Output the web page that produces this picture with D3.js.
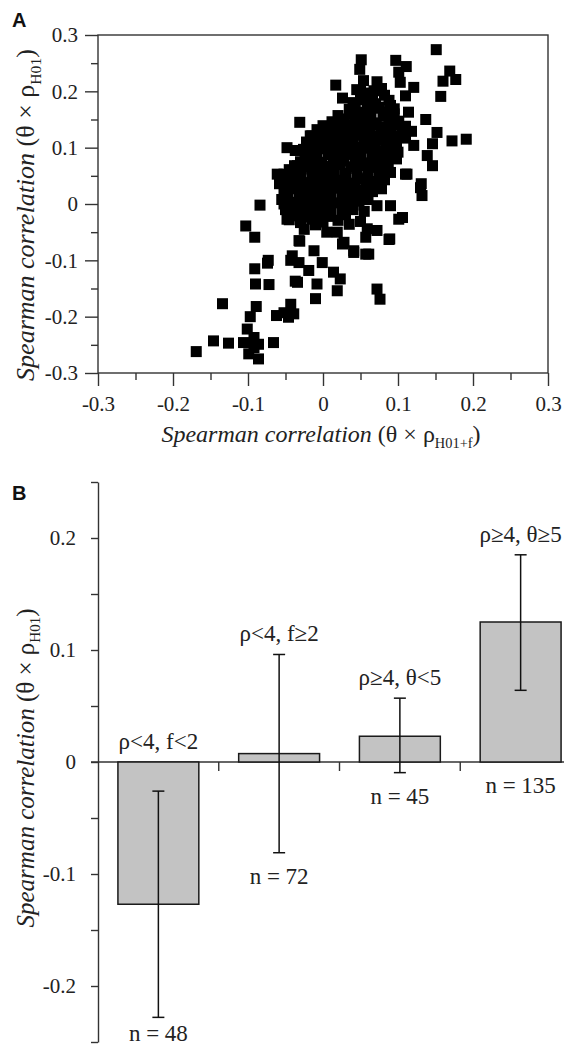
<!DOCTYPE html>
<html>
<head>
<meta charset="utf-8">
<script src="https://cdn.jsdelivr.net/npm/d3@7"></script>
<style>
  body { margin: 0; background: #fff; }
  svg { display: block; }
  .axis path, .axis line { stroke: #333; stroke-width: 1.4; }
  .axis text { font-family: "Liberation Serif", "Times New Roman", serif; font-size: 21px; fill: #222; }
  .serif { font-family: "Liberation Serif", "Times New Roman", serif; fill: #222; }
  .panel { font-family: "Liberation Sans", Arial, sans-serif; font-weight: bold; font-size: 20px; fill: #111; }
</style>
</head>
<body>
<svg id="chart" width="564" height="1049"></svg>
<script>
// ---- panel A: scatter (x = rho H01+f, y = rho H01) ----
const pointsA = [
  // dense core
  [0.045,0.203],[0.062,0.197],[0.078,0.205],
  [0.050,0.191],[0.066,0.189],[0.082,0.193],
  [0.040,0.180],[0.055,0.185],[0.070,0.178],[0.088,0.184],
  [0.043,0.174],[0.059,0.176],[0.075,0.172],[0.090,0.175],
  [0.035,0.168],[0.050,0.163],[0.066,0.170],[0.082,0.164],[0.095,0.169],
  [0.020,0.157],[0.036,0.159],[0.050,0.155],[0.064,0.158],[0.080,0.156],[0.095,0.160],
  [0.012,0.146],[0.028,0.151],[0.043,0.145],[0.057,0.150],[0.071,0.144],[0.088,0.152],[0.101,0.147],
  [0.000,0.139],[0.015,0.141],[0.030,0.137],[0.042,0.140],[0.056,0.138],[0.070,0.141],[0.084,0.137],[0.097,0.140],[0.110,0.138],
  [-0.008,0.132],[0.006,0.127],[0.020,0.134],[0.034,0.129],[0.049,0.133],[0.062,0.126],[0.077,0.131],[0.090,0.128],[0.105,0.133],[0.118,0.129],
  [-0.015,0.121],[0.000,0.119],[0.016,0.123],[0.030,0.120],[0.046,0.122],[0.060,0.118],[0.075,0.121],[0.090,0.123],[0.104,0.120],
  [-0.022,0.110],[-0.005,0.115],[0.010,0.109],[0.025,0.114],[0.040,0.111],[0.055,0.116],[0.068,0.108],[0.083,0.113],[0.098,0.110],[0.110,0.117],
  [-0.018,0.103],[-0.004,0.101],[0.012,0.104],[0.026,0.102],[0.040,0.105],[0.054,0.101],[0.069,0.103],[0.084,0.100],[0.096,0.104],
  [-0.026,0.097],[-0.012,0.092],[0.003,0.098],[0.018,0.093],[0.032,0.096],[0.047,0.091],[0.061,0.099],[0.075,0.094],[0.090,0.097],[0.100,0.092],
  [-0.024,0.086],[-0.008,0.084],[0.007,0.087],[0.022,0.085],[0.036,0.088],[0.051,0.084],[0.066,0.086],[0.080,0.083],[0.094,0.087],
  [-0.030,0.075],[-0.016,0.080],[-0.002,0.074],[0.014,0.079],[0.028,0.076],[0.043,0.081],[0.058,0.073],[0.072,0.078],[0.087,0.075],[0.098,0.080],
  [-0.038,0.068],[-0.022,0.066],[-0.008,0.069],[0.007,0.067],[0.022,0.070],[0.037,0.066],[0.052,0.068],[0.068,0.065],[0.083,0.069],
  [-0.045,0.061],[-0.030,0.056],[-0.015,0.062],[0.000,0.057],[0.015,0.060],[0.030,0.055],[0.045,0.063],[0.060,0.058],[0.076,0.061],[0.090,0.056],
  [-0.044,0.050],[-0.029,0.048],[-0.014,0.051],[0.001,0.049],[0.015,0.052],[0.030,0.048],[0.045,0.050],[0.060,0.047],[0.075,0.051],
  [-0.036,0.043],[-0.022,0.038],[-0.007,0.044],[0.008,0.039],[0.022,0.042],[0.037,0.037],[0.052,0.045],[0.067,0.040],[0.082,0.043],
  [-0.045,0.032],[-0.030,0.030],[-0.016,0.033],[-0.001,0.031],[0.013,0.034],[0.028,0.030],[0.043,0.032],[0.058,0.029],[0.072,0.033],
  [-0.052,0.022],[-0.038,0.027],[-0.024,0.021],[-0.010,0.026],[0.005,0.023],[0.020,0.028],[0.035,0.020],[0.050,0.025],[0.066,0.022],[0.078,0.027],
  [-0.047,0.015],[-0.032,0.013],[-0.018,0.016],[-0.004,0.014],[0.011,0.017],[0.026,0.013],[0.041,0.015],[0.055,0.012],
  [-0.055,0.008],[-0.040,0.003],[-0.026,0.009],[-0.012,0.004],[0.003,0.007],[0.018,0.002],[0.033,0.010],[0.048,0.005],[0.060,0.008],
  [-0.048,-0.003],[-0.033,-0.005],[-0.019,-0.002],[-0.004,-0.004],[0.010,-0.001],[0.026,-0.005],[0.040,-0.002],
  [-0.050,-0.010],[-0.035,-0.015],[-0.020,-0.009],[-0.005,-0.014],[0.010,-0.011],[0.025,-0.016],[0.040,-0.010],[0.055,-0.013],
  [-0.040,-0.021],[-0.025,-0.023],[-0.008,-0.020],[0.008,-0.022],[0.030,-0.019],
  [-0.045,-0.028],[-0.030,-0.033],[-0.015,-0.027],[0.000,-0.032],[0.020,-0.029],[0.050,-0.031],
  // upper spread
  [0.151,0.274],[0.051,0.256],[0.097,0.255],[0.111,0.244],[0.049,0.239],[0.169,0.236],[0.177,0.221],
  [0.160,0.218],[0.017,0.211],[0.054,0.219],[0.072,0.217],[0.101,0.234],[0.103,0.216],[0.121,0.207],
  [0.050,0.201],[0.068,0.201],[0.026,0.188],[0.157,0.191],[0.110,0.192],[-0.031,0.145],[0.137,0.150],
  [0.114,0.163],[0.152,0.127],[0.146,0.107],[0.172,0.112],[0.191,0.115],[0.139,0.086],[0.146,0.068],
  [0.131,0.036],[0.110,0.053],[0.121,0.104],[-0.017,0.121],[-0.048,0.100],[-0.037,0.095],[-0.034,0.068],
  [-0.052,0.053],[-0.061,0.053],[-0.058,0.036],[0.130,0.029],[0.132,0.015],[0.112,0.053],
  // lower spread
  [-0.084,-0.002],[-0.103,-0.039],[-0.091,-0.059],[-0.032,-0.065],[-0.012,-0.083],[0.019,-0.050],
  [0.028,-0.068],[0.041,-0.083],[0.057,-0.089],[0.059,-0.044],[0.072,-0.047],[0.089,-0.062],[0.106,-0.024],
  [0.072,-0.003],[0.090,-0.003],[-0.043,-0.100],[-0.073,-0.100],[-0.052,0.000],[-0.048,-0.027],
  [-0.041,-0.092],[-0.032,-0.104],[-0.074,-0.105],[-0.091,-0.115],[-0.090,-0.142],[-0.072,-0.143],
  [-0.037,-0.137],[-0.134,-0.177],[-0.089,-0.182],[-0.097,-0.200],[-0.062,-0.198],[-0.052,-0.193],
  [-0.043,-0.178],[-0.046,-0.201],[-0.039,-0.195],[-0.101,-0.222],[-0.092,-0.237],[-0.146,-0.243],
  [-0.126,-0.247],[-0.106,-0.246],[-0.086,-0.249],[-0.066,-0.246],[-0.169,-0.262],[-0.099,-0.266],
  [-0.086,-0.275],[-0.092,-0.255],[0.057,-0.059],[0.088,-0.063],[0.026,-0.071],[0.041,-0.086],
  [0.061,-0.089],[-0.031,-0.066],[-0.001,-0.104],[-0.019,-0.118],[0.014,-0.121],[0.023,-0.133],
  [-0.034,-0.139],[-0.008,-0.142],[0.019,-0.154],[-0.010,-0.168],[0.072,-0.151],[0.076,-0.169],
  [0.101,-0.027],[-0.025,-0.045],[-0.010,-0.037],[0.035,-0.036],[0.005,-0.050]
];
const ticksA = [-0.3, -0.2, -0.1, 0, 0.1, 0.2, 0.3];
const tickLabelsA = ["-0.3", "-0.2", "-0.1", "0", "0.1", "0.2", "0.3"];
const minorTicksA = [-0.25, -0.15, -0.05, 0.05, 0.15, 0.25];

// ---- panel B: bars with error bars ----
const groups = ["ρ<4, f<2", "ρ<4, f≥2", "ρ≥4, θ<5", "ρ≥4, θ≥5"];
const means = [-0.127, 0.0075, 0.023, 0.125];
const errLow = [-0.228, -0.081, -0.0095, 0.064];
const errHigh = [-0.026, 0.096, 0.057, 0.185];
const counts = [48, 72, 45, 135];
const ticksB = [-0.25, -0.2, -0.15, -0.1, -0.05, 0, 0.05, 0.1, 0.15, 0.2, 0.25];
const tickLabelsB = ["", "-0.2", "", "-0.1", "", "0", "", "0.1", "", "0.2", ""];

const svg = d3.select("#chart");

function axisTitle(sel, x, y, angle, sub, size) {
  const t = sel.append("text")
    .attr("class", "serif")
    .attr("text-anchor", "middle")
    .attr("transform", "translate(" + x + "," + y + ") rotate(" + angle + ")")
    .style("font-size", size + "px");
  t.append("tspan").style("font-style", "italic").text("Spearman correlation");
  t.append("tspan").text(" (θ × ρ");
  t.append("tspan").attr("dy", size * 0.25).style("font-size", (size * 0.6) + "px").text(sub);
  t.append("tspan").attr("dy", -size * 0.25).text(")");
}

// panel A
const xA = d3.scaleLinear().domain([-0.3, 0.3]).range([98, 548]);
const yA = d3.scaleLinear().domain([-0.3, 0.3]).range([373, 35]);

svg.append("text").attr("class", "panel").attr("x", 12).attr("y", 27).text("A");

svg.append("rect")
  .attr("x", xA(-0.3)).attr("y", yA(0.3))
  .attr("width", xA(0.3) - xA(-0.3)).attr("height", yA(-0.3) - yA(0.3))
  .attr("fill", "none").attr("stroke", "#333").attr("stroke-width", 1.4);

svg.append("g").attr("class", "axis").attr("transform", "translate(98,0)")
  .call(d3.axisLeft(yA).tickValues(minorTicksA).tickSize(7).tickFormat(""))
  .call(g => g.select(".domain").remove());
svg.append("g").attr("class", "axis").attr("transform", "translate(98,0)")
  .call(d3.axisLeft(yA).tickValues(ticksA).tickSize(13).tickPadding(7)
    .tickFormat((d, i) => tickLabelsA[i]))
  .call(g => g.select(".domain").remove());

svg.append("g").attr("class", "axis").attr("transform", "translate(0,373)")
  .call(d3.axisBottom(xA).tickValues(minorTicksA).tickSize(7).tickFormat(""))
  .call(g => g.select(".domain").remove());
svg.append("g").attr("class", "axis").attr("transform", "translate(0,373)")
  .call(d3.axisBottom(xA).tickValues(ticksA).tickSize(13).tickPadding(10)
    .tickFormat((d, i) => tickLabelsA[i]))
  .call(g => g.select(".domain").remove());

const m = 11;
svg.append("g").selectAll("rect")
  .data(pointsA)
  .enter()
  .append("rect")
  .attr("x", d => xA(d[0]) - m / 2)
  .attr("y", d => yA(d[1]) - m / 2)
  .attr("width", m)
  .attr("height", m)
  .attr("fill", "#000");

axisTitle(svg, 321, 442, 0, "H01+f", 24);
axisTitle(svg, 34, 215, -90, "H01", 26);

// panel B
const yB = d3.scaleLinear().domain([-0.25, 0.25]).range([1042, 482]);
const xB = d3.scaleBand().domain(groups).range([98, 581]).paddingInner(0.33).paddingOuter(0.165);
const step = xB.step();

svg.append("text").attr("class", "panel").attr("x", 12).attr("y", 500).text("B");

svg.append("g").attr("class", "axis").attr("transform", "translate(98,0)")
  .call(d3.axisLeft(yB).tickValues(ticksB).tickSize(7).tickSizeOuter(0).tickPadding(15)
    .tickFormat((d, i) => tickLabelsB[i]));

// zero line and category separators
svg.append("line")
  .attr("x1", 91).attr("x2", 564)
  .attr("y1", yB(0)).attr("y2", yB(0))
  .attr("stroke", "#333").attr("stroke-width", 1.4);
svg.append("g").selectAll("line")
  .data(groups.slice(1))
  .enter()
  .append("line")
  .attr("x1", d => xB(d) - step * xB.paddingInner() / 2)
  .attr("x2", d => xB(d) - step * xB.paddingInner() / 2)
  .attr("y1", yB(0)).attr("y2", yB(0) + 9)
  .attr("stroke", "#333").attr("stroke-width", 1.4);

const barG = svg.append("g").selectAll("g")
  .data(groups)
  .enter()
  .append("g");

barG.append("rect")
  .attr("x", d => xB(d))
  .attr("y", (d, i) => yB(Math.max(0, means[i])))
  .attr("width", xB.bandwidth())
  .attr("height", (d, i) => Math.abs(yB(means[i]) - yB(0)))
  .attr("fill", "#c3c3c3")
  .attr("stroke", "#1a1a1a")
  .attr("stroke-width", 1.5);

const cx = d => xB(d) + xB.bandwidth() / 2;
barG.append("line")
  .attr("x1", cx).attr("x2", cx)
  .attr("y1", (d, i) => yB(errLow[i])).attr("y2", (d, i) => yB(errHigh[i]))
  .attr("stroke", "#111").attr("stroke-width", 1.5);
barG.append("line")
  .attr("x1", d => cx(d) - 6).attr("x2", d => cx(d) + 6)
  .attr("y1", (d, i) => yB(errLow[i])).attr("y2", (d, i) => yB(errLow[i]))
  .attr("stroke", "#111").attr("stroke-width", 1.5);
barG.append("line")
  .attr("x1", d => cx(d) - 6).attr("x2", d => cx(d) + 6)
  .attr("y1", (d, i) => yB(errHigh[i])).attr("y2", (d, i) => yB(errHigh[i]))
  .attr("stroke", "#111").attr("stroke-width", 1.5);

barG.append("text")
  .attr("class", "serif")
  .attr("text-anchor", "middle")
  .style("font-size", "23px")
  .attr("x", cx)
  .attr("y", (d, i) => Math.min(yB(errHigh[i]), yB(0)) - 13)
  .text(d => d);

barG.append("text")
  .attr("class", "serif")
  .attr("text-anchor", "middle")
  .style("font-size", "23px")
  .attr("x", cx)
  .attr("y", (d, i) => Math.min(Math.max(yB(errLow[i]), yB(0)) + 31, 1041))
  .text((d, i) => "n = " + counts[i]);

axisTitle(svg, 34, 768, -90, "H01", 25);
</script>
</body>
</html>
